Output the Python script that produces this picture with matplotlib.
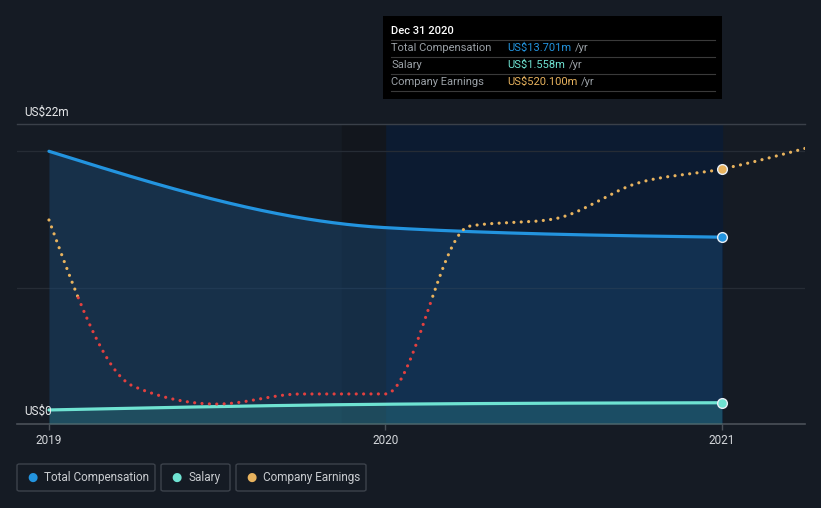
import matplotlib as mpl
mpl.use('Agg')
import matplotlib.pyplot as plt
import numpy as np
from matplotlib.patches import FancyBboxPatch, Rectangle

plt.rcParams['font.family'] = ['Roboto', 'DejaVu Sans']

# data (US$ m)
comp_years = [2019.0, 2020.0, 2021.0]
total_comp = [20.0, 14.4, 13.701]
salary = [1.03, 1.45, 1.558]

earn_years = [2019.0, 2019.25, 2019.5, 2019.75, 2020.0, 2020.25, 2020.5, 2020.75, 2021.0, 2021.25]
earnings = [313, -362, -435, -394, -394, 288, 317, 463, 520.1, 605]

year_ticks = [2019, 2020, 2021]
year_labels = ["2019", "2020", "2021"]

BG = '#151b24'
BLUE = '#2394df'
TEAL = '#6fe3d2'
GOLD = '#e8b35e'
RED = '#e2403f'

W, H = 821, 508


def px(x, y):
    return x / W, 1 - y / H


def monotone(x, y, n=600):
    # monotone cubic (same as d3 curveMonotoneX) just for drawing
    x = np.asarray(x, float); y = np.asarray(y, float)
    h = np.diff(x); s = np.diff(y) / h
    m = np.zeros(len(x))
    for i in range(1, len(x) - 1):
        p = (s[i-1] * h[i] + s[i] * h[i-1]) / (h[i-1] + h[i])
        m[i] = (np.sign(s[i-1]) + np.sign(s[i])) * min(abs(s[i-1]), abs(s[i]), 0.5 * abs(p))
    m[0] = (3 * s[0] - m[1]) / 2
    m[-1] = (3 * s[-1] - m[-2]) / 2
    xs = np.linspace(x[0], x[-1], n)
    idx = np.clip(np.searchsorted(x, xs) - 1, 0, len(x) - 2)
    t = (xs - x[idx]) / h[idx]
    h00 = 2*t**3 - 3*t**2 + 1; h10 = t**3 - 2*t**2 + t
    h01 = -2*t**3 + 3*t**2; h11 = t**3 - t**2
    ys = h00*y[idx] + h10*h[idx]*m[idx] + h01*y[idx+1] + h11*h[idx]*m[idx+1]
    return xs, ys


fig = plt.figure(figsize=(W / 100, H / 100), dpi=100)
fig.patch.set_facecolor(BG)
ax = fig.add_axes([17 / W, 84 / H, 788 / W, 300 / H])
ax.set_facecolor(BG)
ax.set_xlim(2018.905, 2021.247)
ax.set_ylim(0, 22)

# highlighted year and hover band
ax.axvspan(2020, 2021, color='#0c1b31', zorder=0)
ax.axvspan(2019.87, 2020, color='#12161d', zorder=0)

for g in [10, 20]:
    ax.axhline(g, color='#262c35', lw=0.9, zorder=1)
ax.axhline(22, color='#3a4049', lw=1.0, zorder=1, clip_on=False)

xc, yc = monotone(comp_years, total_comp)
ax.fill_between(xc, 0, yc, color='#1a4a78', alpha=0.45, lw=0, zorder=2)
ax.plot(xc, yc, color=BLUE, lw=2.3, zorder=5, solid_capstyle='round')

xs, ys = monotone(comp_years, salary)
ax.fill_between(xs, 0, ys, color='#3fb5ae', alpha=0.22, lw=0, zorder=3)
ax.plot(xs, ys, color=TEAL, lw=2.3, zorder=6, solid_capstyle='round')

ax.plot(comp_years[-1], total_comp[-1], 'o', ms=7, mfc=BLUE, mec='#e8eef5', mew=1.0, zorder=8, clip_on=False)
ax.plot(comp_years[-1], salary[-1], 'o', ms=7, mfc=TEAL, mec='#e8eef5', mew=1.0, zorder=8, clip_on=False)

# earnings on hidden second scale
ax2 = ax.twinx()
ax2.set_ylim(-516, 703)
ax2.axis('off')
xe, ye = monotone(earn_years, earnings, n=1500)
pos = np.where(ye >= 0, ye, np.nan)
neg = np.where(ye <= 0, ye, np.nan)
dots = (0, (0.01, 2.3))
ax2.plot(xe, pos, color=GOLD, lw=2.3, ls=dots, dash_capstyle='round', zorder=4)
ax2.plot(xe, neg, color=RED, lw=2.3, ls=dots, dash_capstyle='round', zorder=4)
ax2.plot(earn_years[-2], earnings[-2], 'o', ms=7, mfc=GOLD, mec='#e8eef5', mew=1.0, zorder=8)

for sp in ['top', 'right', 'left']:
    ax.spines[sp].set_visible(False)
ax.spines['bottom'].set_color('#4a5058')
ax.spines['bottom'].set_linewidth(1.2)
ax.set_yticks([])
ax.set_xticks(year_ticks)
ax.set_xticklabels(year_labels)
ax.tick_params(axis='x', colors='#4a5058', length=4, width=1, labelcolor='#d4d7db', labelsize=8.5, pad=3)

fig.text(*px(24, 112), 'US$22m', color='#e6e8ea', fontsize=8.5, va='center', ha='left')
fig.text(*px(24, 411), 'US$0', color='#e6e8ea', fontsize=8.5, va='center', ha='left')

# tooltip
fig.patches.append(Rectangle(px(383, 99), 339 / W, 83 / H, transform=fig.transFigure,
                             facecolor='#000000', edgecolor='none', zorder=10))
fig.text(*px(391, 31), 'Dec 31 2020', color='white', fontsize=8, fontweight='medium', va='center', zorder=11)
rows = [('Total Compensation', 'US$13.701m', BLUE),
        ('Salary', 'US$1.558m', TEAL),
        ('Company Earnings', 'US$520.100m', GOLD)]
renderer = fig.canvas.get_renderer()
for i, (lab, val, col) in enumerate(rows):
    y = 48 + i * 17
    fig.text(*px(391, y), lab, color='#9aa0a6', fontsize=8, va='center', zorder=11)
    t = fig.text(*px(507, y), val, color=col, fontsize=8, va='center', zorder=11)
    x_end = t.get_window_extent(renderer).x1
    fig.text(*px(x_end + 4, y), '/yr', color='#9aa0a6', fontsize=8, va='center', zorder=11)
for y in [40, 57, 74, 91]:
    fig.lines.append(plt.Line2D([391 / W, 715 / W], [1 - y / H] * 2, transform=fig.transFigure,
                                color='#3a3a3a', lw=0.8, zorder=11))

# legend boxes
items = [(17, 155, 'Total Compensation', BLUE), (161, 230, 'Salary', TEAL), (236, 366, 'Company Earnings', GOLD)]
for x0, x1, lab, col in items:
    fig.patches.append(FancyBboxPatch(px(x0, 491), (x1 - x0) / W, 27 / H, boxstyle='round,pad=0,rounding_size=0.003',
                                      transform=fig.transFigure, facecolor=BG, edgecolor='#3c424b', lw=1.0))
    fig.text(*px(x0 + 15, 477.5), '\u25cf', color=col, fontsize=8.5, va='center', ha='center',
             family='DejaVu Sans')
    fig.text(*px(x0 + 27, 477.5), lab, color='#c9ccd0', fontsize=8.5, va='center', ha='left')

fig.savefig('out.png', dpi=100, facecolor=BG)
